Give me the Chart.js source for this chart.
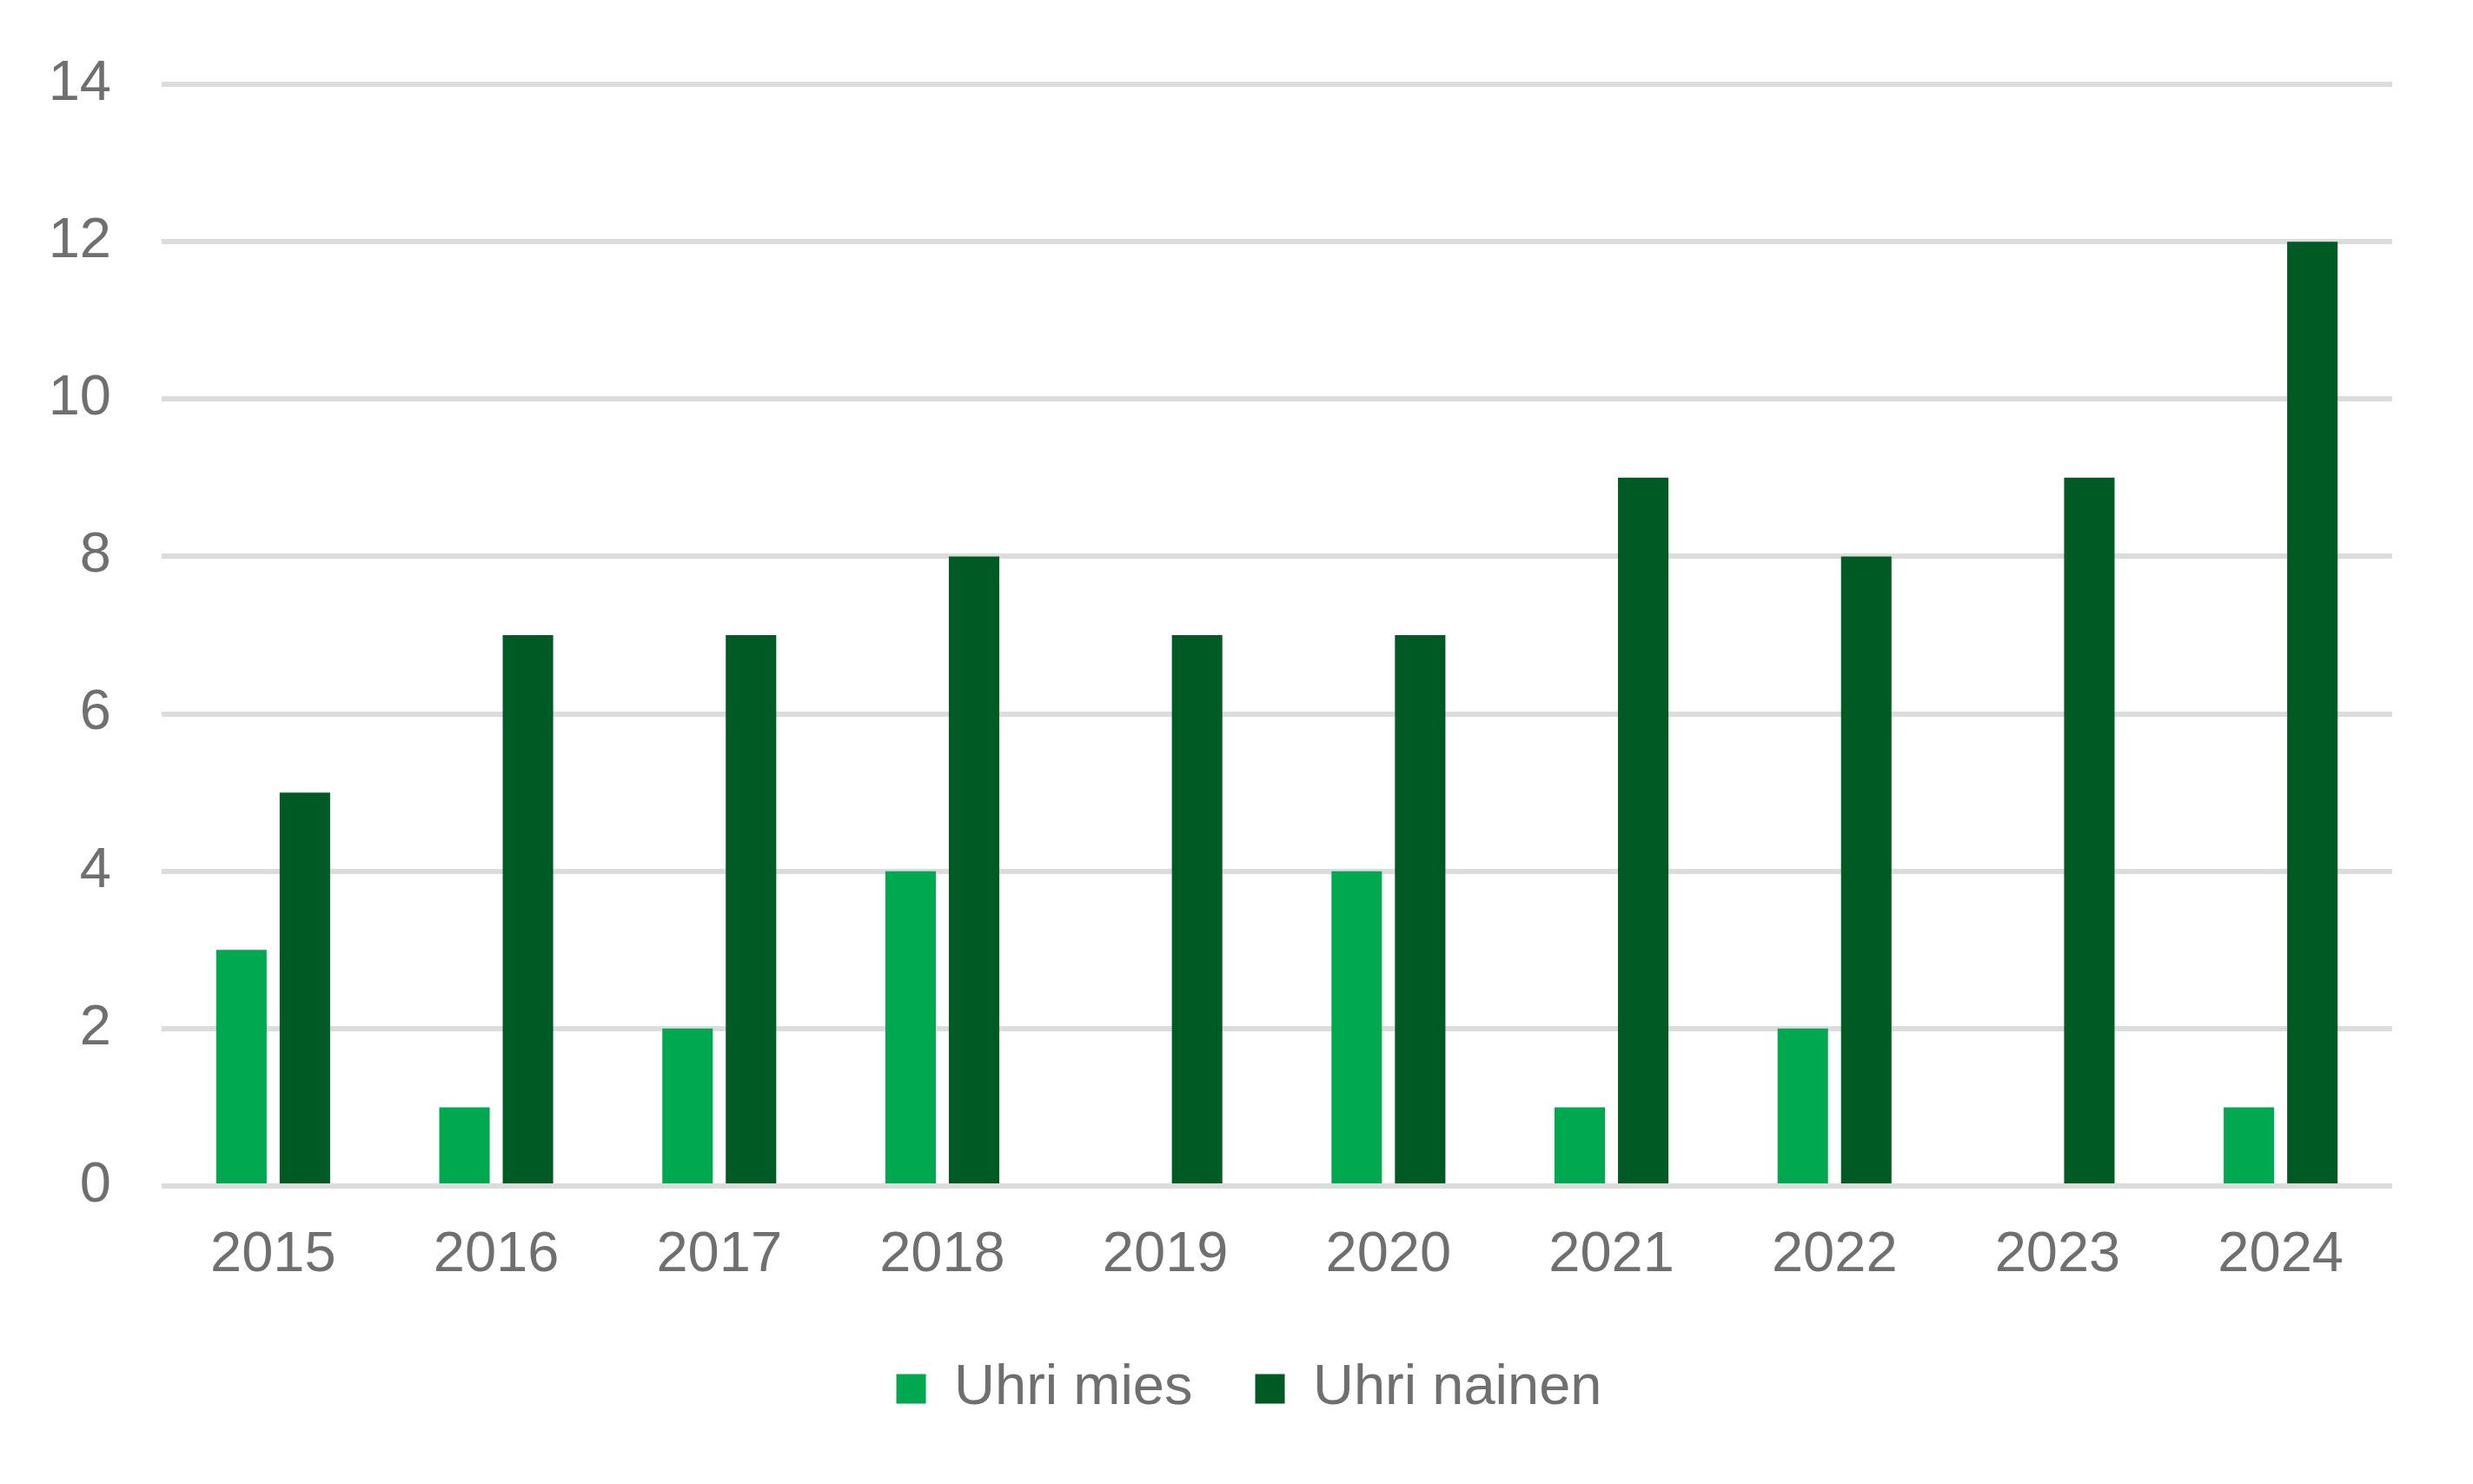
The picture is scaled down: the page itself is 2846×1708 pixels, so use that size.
<!DOCTYPE html>
<html lang="fi">
<head>
  <meta charset="UTF-8">
  <title>Uhri mies / Uhri nainen 2015–2024</title>
  <script src="https://cdn.jsdelivr.net/npm/chart.js@4.4.0"></script>
  <style>
    html, body {
      margin: 0;
      padding: 0;
      background: #fff;
    }
    .chart-box {
      width: 2846px;
      height: 1708px;
      position: relative;
    }
  </style>
</head>
<body>
  <div class="chart-box">
    <canvas id="chartVictims"></canvas>
  </div>

  <script>
    const years = ['2015', '2016', '2017', '2018', '2019', '2020', '2021', '2022', '2023', '2024'];
    const victimsMale = [3, 1, 2, 4, 0, 4, 1, 2, 0, 1];
    const victimsFemale = [5, 7, 7, 8, 7, 7, 9, 8, 9, 12];
    const yTicks = [0, 2, 4, 6, 8, 10, 12, 14];

    const textColor = '#6f6f6f';
    const font = { family: "'Liberation Sans', Arial, sans-serif", size: 65 };

    // nudge the legend a bit to the left so it sits where the original one does
    const legendShift = {
      id: 'legendShift',
      afterLayout(chart) {
        chart.legend.left -= 64;
      }
    };

    new Chart(document.getElementById('chartVictims'), {
      type: 'bar',
      data: {
        labels: years,
        datasets: [
          {
            label: 'Uhri mies',
            data: victimsMale,
            backgroundColor: '#00a950',
            categoryPercentage: 0.569,
            barPercentage: 0.795
          },
          {
            label: 'Uhri nainen',
            data: victimsFemale,
            backgroundColor: '#005a24',
            categoryPercentage: 0.569,
            barPercentage: 0.795
          }
        ]
      },
      options: {
        responsive: true,
        maintainAspectRatio: false,
        animation: false,
        layout: {
          padding: { top: 92, right: 93, bottom: 67, left: 0 }
        },
        plugins: {
          legend: {
            position: 'bottom',
            fullSize: false,
            labels: {
              color: textColor,
              font: font,
              boxWidth: 34,
              boxHeight: 34,
              padding: 72
            }
          },
          tooltip: { enabled: false }
        },
        scales: {
          x: {
            grid: { display: false },
            border: { display: false },
            ticks: { color: textColor, font: font, padding: 33, maxRotation: 0 },
            afterFit: scale => { scale.height = 129; }
          },
          y: {
            min: 0,
            max: 14,
            afterBuildTicks: scale => { scale.ticks = yTicks.map(v => ({ value: v })); },
            grid: { color: '#dcdcdc', lineWidth: 6, drawTicks: false },
            border: { display: false },
            ticks: { color: textColor, font: font, padding: 58 },
            afterFit: scale => { scale.width = 186; }
          }
        }
      },
      plugins: [legendShift]
    });
  </script>
</body>
</html>
